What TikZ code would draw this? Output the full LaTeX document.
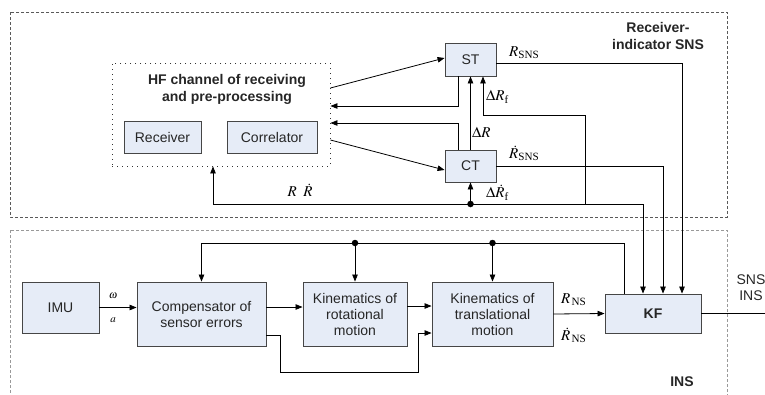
\documentclass[tikz,border=0pt]{standalone}
\usepackage{amsmath}
\usepackage{mathptmx}
\usepackage{fontspec}
\setmainfont{Liberation Sans}
\newfontfamily\tms{Liberation Serif}
\usetikzlibrary{arrows.meta,calc}
\definecolor{boxfill}{RGB}{230,236,247}
\definecolor{boxline}{RGB}{70,70,70}
\newcommand{\sub}[1]{\text{\tms #1}}

\tikzset{
  blk/.style={draw=boxline, fill=boxfill, line width=0.9pt, inner sep=0pt,
              align=center, text=black!85, font=\fontsize{14}{16}\selectfont},
  ln/.style={line width=0.8pt},
  arr/.style={line width=0.8pt, -{Triangle[length=7pt,width=5.5pt]}},
  dotc/.style={circle, fill=black, inner sep=0pt, minimum size=6.5pt},
  lbl/.style={font=\fontsize{15}{17}\selectfont, inner sep=0pt, anchor=west},
  ttl/.style={font=\bfseries\fontsize{14}{17}\selectfont, align=center, text=black!85, inner sep=0pt},
  region/.style={line width=0.7pt, dash pattern=on 3pt off 2pt},
}

\begin{document}
\begin{tikzpicture}[x=1pt, y=-1pt]
  \useasboundingbox (0,0) rectangle (765,394);

  % dashed regions: receiver-indicator (top) and INS (bottom)
  \draw[region, draw=black!65] (10,12) rectangle (727,217);
  \draw[region, draw=black!40] (10,230) rectangle (727,410);
  \node[ttl] (rsns) at (658,36) {Receiver-\\indicator SNS};
  \node[ttl] (ins) at (682,382) {INS};

  % HF channel
  \node[draw=black!80, line width=0.9pt, dash pattern=on 1.2pt off 3.8pt,
        minimum width=218pt, minimum height=103pt, inner sep=0pt] (hf) at (221,114.5) {};
  \node[ttl] (hft) at (227,89) {HF channel of receiving\\and pre-processing};
  \node[blk, minimum width=77pt, minimum height=32pt] (rcv) at (162.5,137) {Receiver};
  \node[blk, minimum width=90pt, minimum height=32pt] (cor) at (272,137) {Correlator};

  % tracking loops
  \node[blk, minimum width=51pt, minimum height=33pt] (st) at (470.5,59.5) {ST};
  \node[blk, minimum width=51pt, minimum height=32pt] (ct) at (470.5,166) {CT};

  % INS blocks
  \node[blk, minimum width=77pt, minimum height=51pt] (imu) at (60.5,307.5) {IMU};
  \node[blk, minimum width=129pt, minimum height=64pt] (comp) at (201.5,314) {Compensator of\\sensor errors};
  \node[blk, minimum width=104pt, minimum height=64pt] (rot) at (355,314) {Kinematics of\\rotational\\motion};
  \node[blk, minimum width=121pt, minimum height=64pt] (tr) at (492.5,314) {Kinematics of\\translational\\motion};
  \node[blk, minimum width=96pt, minimum height=39pt, font=\bfseries\fontsize{14}{16}\selectfont] (kf) at (653,313.5) {KF};

  % HF channel <-> trackers
  \draw[arr] ($(hf.east)+(0,-26.5)$) -- ($(st.west)+(0,-1.5)$);
  \draw[arr] ($(st.south)+(-12.5,0)$) |- ($(hf.east)+(0,-8.5)$);
  \draw[arr] ($(ct.north)+(-12.5,0)$) |- ($(hf.east)+(0,8.5)$);
  \draw[arr] ($(hf.east)+(0,25.5)$) -- ($(ct.west)+(0,4)$);
  \draw[arr] (ct.north) -- (st.south);

  % correction bus
  \coordinate (bl) at (213,204);
  \coordinate (br) at (643,204);
  \coordinate (bf) at (585,204);
  \node[dotc] (bd) at (470.5,204) {};
  \draw[ln] (bl) -- (br);
  \draw[arr] (bl) -- (bl |- hf.south);
  \draw[arr] (br) -- (br |- kf.north);
  \draw[arr] (bd) -- (ct.south);
  \draw[arr] (bf) |- ($(st.south)+(12.5,39)$) -- ($(st.south)+(12.5,0)$);

  % SNS outputs to KF
  \draw[arr] ($(st.east)+(0,3.5)$) -| ($(kf.north)+(29,0)$);
  \draw[arr] (ct.east) -| ($(kf.north)+(10,0)$);

  % INS chain
  \draw[arr] (imu.east) -- (imu.east -| comp.west);
  \draw[arr] ($(comp.east)+(0,-7)$) -- ($(rot.west)+(0,-7)$);
  \draw[arr] ($(rot.east)+(0,-8)$) -- ($(tr.west)+(0,-8)$);
  \draw[arr] ($(comp.east)+(0,21)$) -| (280,372) -| ($(tr.west)+(-13,19)$) -- ($(tr.west)+(0,19)$);
  \draw[arr] (tr.east) -- (kf.west);

  % KF feedback
  \coordinate (fb) at (624,243);
  \draw[arr] ($(kf.north)+(-29,0)$) -- (fb) -| (comp.north);
  \node[dotc] (d1) at (rot.north |- fb) {};
  \node[dotc] (d2) at (tr.north |- fb) {};
  \draw[arr] (d1) -- (rot.north);
  \draw[arr] (d2) -- (tr.north);

  % KF output
  \coordinate (out) at (772,313.5);
  \draw[ln] (kf.east) -- (out);
  \node[font=\fontsize{14}{16}\selectfont, align=center, text=black!85, inner sep=0pt] (sout) at (751,288) {SNS\\INS};

  % signal labels
  \node[lbl, anchor=center] (lrr) at (300,190) {$R\;\;\dot R$};
  \node[lbl] (ldr) at (472,132) {$\Delta R$};
  \node[lbl] (ldrf) at (486,97) {$\Delta R_{\sub{f}}$};
  \node[lbl] (ldrfd) at (486,193) {$\Delta \dot R_{\sub{f}}$};
  \node[lbl] (lrs) at (509,53) {$R_{\sub{SNS}}$};
  \node[lbl] (lrsd) at (509,153) {$\dot R_{\sub{SNS}}$};
  \node[lbl] (lrn) at (561,300) {$R_{\,\sub{NS}}$};
  \node[lbl] (lrnd) at (561,335) {$\dot R_{\,\sub{NS}}$};
  \node[lbl, font=\fontsize{11}{13}\selectfont, anchor=center] (lw) at (113,296) {$\omega$};
  \node[lbl, font=\fontsize{11}{13}\selectfont, anchor=center] (la) at (113,320) {$a$};
\end{tikzpicture}
\end{document}
